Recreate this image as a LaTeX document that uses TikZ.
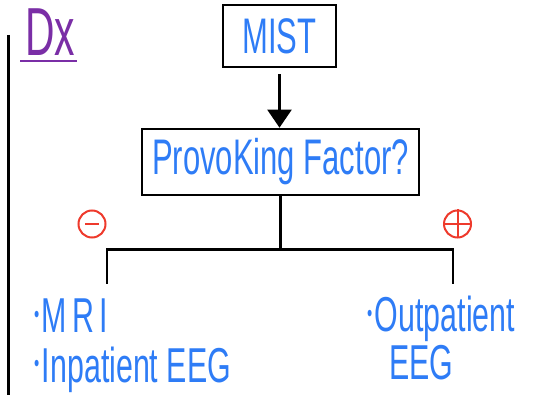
\documentclass[tikz,border=0pt]{standalone}
\usepackage{fontspec}
\setmainfont{Liberation Sans}
\usepackage{graphicx}
\usetikzlibrary{positioning,calc,arrows.meta}
\definecolor{penblue}{HTML}{2E7CF6}
\definecolor{penred}{HTML}{EE3A2C}
\definecolor{penpurple}{HTML}{7A2EA6}
\newcommand{\hand}[1]{\scalebox{0.62}[1]{#1}}
\newcommand{\dotb}{\raisebox{10pt}{\fontsize{24}{24}\selectfont•}\hspace{4pt}}
\tikzset{boxed/.style={draw, line width=2.6pt, inner sep=0pt, text=penblue, font=\fontsize{50}{60}\selectfont}}
\tikzset{item/.style={inner sep=0pt, text=penblue, font=\fontsize{49}{58}\selectfont, anchor=base west}}
\tikzset{arr/.style={draw, line width=2.2pt, -{Triangle[width=24pt,length=18pt]}}}
\tikzset{wire/.style={draw, line width=2.6pt}}
\tikzset{sign/.style={circle, draw=penred, line width=2pt, minimum size=27pt, inner sep=0pt}}
\begin{document}
\begin{tikzpicture}[x=1pt,y=-1pt]
\useasboundingbox (0,0) rectangle (533,395);
% heading and margin rule
\node[inner sep=0pt, text=penpurple, font=\fontsize{68}{76}\selectfont, anchor=base west] (dx) at (25,56) {\scalebox{0.6}[1]{Dx}};
\draw[penpurple, line width=2.2pt] ([xshift=-5pt,yshift=-5pt]dx.base west) -- ([xshift=2pt,yshift=-5pt]dx.base east);
\draw[line width=3pt] (8,35) -- (8,395);
% boxes
\node[boxed, minimum width=113pt, minimum height=62pt] (mist) at (279.5,36) {\hand{MIST}};
\node[boxed, minimum width=277pt, minimum height=66pt] (provoke) at (280.5,162) {\hand{ProvoKing Factor?}};
\draw[arr] ([yshift=-6pt]mist.south) -- (mist.south |- provoke.north);
% split
\coordinate (jn) at ($(provoke.south)+(0,53)$);
\coordinate (lft) at (107,284);
\coordinate (rgt) at (453,284);
\draw[wire] (provoke.south) -- (jn);
\draw[wire] (lft) |- (jn) -| (rgt);
\node[sign] (neg) at (92,224) {};
\draw[penred, line width=2pt] ([xshift=-7pt]neg.center) -- ([xshift=7pt]neg.center);
\node[sign] (pos) at (457.5,224) {};
\draw[penred, line width=2pt] (pos.west) -- (pos.east) (pos.north) -- (pos.south);
% outcomes
\node[item] (mri) at (34,333) {\hand{\dotb M\,R\,I}};
\node[item] (inpat) at (34,382) {\hand{\dotb Inpatient EEG}};
\node[item] (outpat) at (367,332) {\hand{\dotb Outpatient}};
\node[item] (eeg) at (389,380) {\hand{EEG}};
\end{tikzpicture}
\end{document}
